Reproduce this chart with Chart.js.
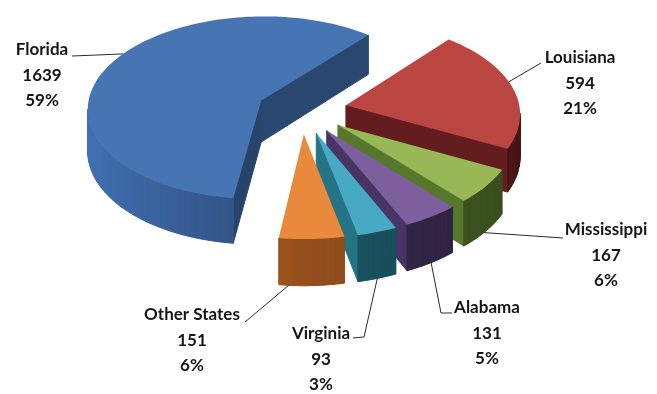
<!DOCTYPE html>
<html>
<head>
<meta charset="utf-8">
<script src="https://cdn.jsdelivr.net/npm/chart.js@4/dist/chart.umd.min.js"></script>
<style>
  html, body { margin: 0; padding: 0; background: #fff; }
  canvas { display: block; }
</style>
</head>
<body>
<canvas id="pieChart" width="657" height="394"></canvas>
<script>
// cases by state
var states = ['Florida', 'Louisiana', 'Mississippi', 'Alabama', 'Virginia', 'Other States'];
var counts = [1639, 594, 167, 131, 93, 151];
var shares = ['59%', '21%', '6%', '5%', '3%', '6%'];

var topColors = ['#4774b2', '#ba4541', '#98b855', '#7d5f9d', '#47a9c3', '#e8893b'];
var sideColors = ['#355a8f', '#5e1b1c', '#4b6627', '#3b2b53', '#1e5d6c', '#a5581f'];

// disc geometry: centre of the top face, radius, vertical squash, perspective, thickness
var view = { cx: 302, cy: 110, r: 174, tilt: 0.53, persp: 0.08, depth: 42, explode: 45 };

// label block centres and leader line paths (anchor on the slice is computed)
var labelPos = [[42, 50], [580, 58], [606, 230], [487, 308], [321, 334], [192, 315]];
var leaders = [
  { frac: 0.54, h: 0, path: [[72, 56]] },
  { frac: 0.45, h: 0, path: [[541, 63]] },
  { frac: 0.55, h: 1, path: [[563, 238]] },
  { frac: 0.5, h: 1, path: [[441, 313], [452, 313]] },
  { frac: 0.5, h: 1, path: [[364, 337], [353, 338]] },
  { frac: 0.85, h: 1, path: [[245, 322]] }
];

function project(x, z, h) {
  var s = 1 / (1 + view.persp * z / view.r);
  return [view.cx + x * s, view.cy - z * view.tilt * s + h * s];
}

function shade(hex, f) {
  var n = parseInt(hex.slice(1), 16);
  var r = Math.min(255, Math.round(((n >> 16) & 255) * f));
  var g = Math.min(255, Math.round(((n >> 8) & 255) * f));
  var b = Math.min(255, Math.round((n & 255) * f));
  return 'rgb(' + r + ',' + g + ',' + b + ')';
}

// slice outline on the disc plane, angles clockwise from the back
function sliceGeom(arc) {
  var a0 = arc.startAngle + Math.PI / 2, a1 = arc.endAngle + Math.PI / 2;
  var mid = (a0 + a1) / 2;
  var ox = view.explode * Math.sin(mid), oz = view.explode * Math.cos(mid);
  var pts = [[ox, oz]];
  var steps = Math.max(2, Math.ceil((a1 - a0) / 0.03));
  for (var i = 0; i <= steps; i++) {
    var a = a0 + (a1 - a0) * i / steps;
    pts.push([ox + view.r * Math.sin(a), oz + view.r * Math.cos(a)]);
  }
  var zsum = 0;
  pts.forEach(function (p) { zsum += p[1]; });
  return { a0: a0, a1: a1, ox: ox, oz: oz, pts: pts, key: zsum / pts.length };
}

function drawSlice(ctx, g, i) {
  var pts = g.pts, n = pts.length, walls = [];
  for (var j = 0; j < n; j++) {
    var p = pts[j], q = pts[(j + 1) % n];
    var A = project(p[0], p[1], 0), B = project(q[0], q[1], 0);
    if (B[0] >= A[0]) continue;
    var dx = q[0] - p[0], dz = q[1] - p[1], len = Math.hypot(dx, dz) || 1;
    var nx = -dz / len;
    walls.push({
      quad: [A, B, project(q[0], q[1], view.depth), project(p[0], p[1], view.depth)],
      z: (p[1] + q[1]) / 2,
      f: 0.9 + 0.35 * Math.max(0, -nx) - 0.15 * Math.max(0, nx)
    });
  }
  walls.sort(function (a, b) { return b.z - a.z; });
  walls.forEach(function (w) {
    ctx.beginPath();
    w.quad.forEach(function (pt, k) { k ? ctx.lineTo(pt[0], pt[1]) : ctx.moveTo(pt[0], pt[1]); });
    ctx.closePath();
    ctx.fillStyle = shade(sideColors[i], w.f);
    ctx.strokeStyle = ctx.fillStyle;
    ctx.lineWidth = 1;
    ctx.fill();
    ctx.stroke();
  });
  ctx.beginPath();
  pts.forEach(function (p, k) {
    var s = project(p[0], p[1], 0);
    k ? ctx.lineTo(s[0], s[1]) : ctx.moveTo(s[0], s[1]);
  });
  ctx.closePath();
  ctx.fillStyle = topColors[i];
  ctx.fill();
}

function drawLabels(ctx, geoms) {
  ctx.font = 'bold 17px Lato';
  ctx.textAlign = 'center';
  ctx.textBaseline = 'middle';
  ctx.strokeStyle = '#2a2a2a';
  ctx.lineWidth = 1;
  geoms.forEach(function (g, i) {
    var L = leaders[i];
    var a = g.a0 + (g.a1 - g.a0) * L.frac;
    var start = project(g.ox + view.r * Math.sin(a), g.oz + view.r * Math.cos(a), view.depth * L.h);
    ctx.beginPath();
    ctx.moveTo(start[0], start[1]);
    L.path.forEach(function (pt) { ctx.lineTo(pt[0], pt[1]); });
    ctx.stroke();

    var lx = labelPos[i][0], ly = labelPos[i][1];
    ctx.fillStyle = '#161616';
    ctx.fillText(states[i], lx, ly);
    ctx.fillText(String(counts[i]), lx, ly + 26);
    ctx.fillText(shares[i], lx, ly + 51);
  });
}

var pie3d = {
  id: 'pie3d',
  beforeDatasetsDraw: function (chart) {
    var ctx = chart.ctx;
    var geoms = chart.getDatasetMeta(0).data.map(sliceGeom);
    var order = geoms.map(function (g, i) { return i; });
    order.sort(function (a, b) { return geoms[b].key - geoms[a].key; });
    ctx.save();
    order.forEach(function (i) { drawSlice(ctx, geoms[i], i); });
    drawLabels(ctx, geoms);
    ctx.restore();
    return false;
  }
};

var ctx = document.getElementById('pieChart').getContext('2d');

var pieChart = new Chart(ctx, {
  type: 'pie',
  data: {
    labels: states,
    datasets: [{
      data: counts,
      backgroundColor: topColors,
      borderWidth: 0
    }]
  },
  options: {
    responsive: false,
    animation: false,
    rotation: 187.5,
    events: [],
    plugins: {
      legend: { display: false },
      tooltip: { enabled: false }
    }
  },
  plugins: [pie3d]
});
</script>
</body>
</html>
